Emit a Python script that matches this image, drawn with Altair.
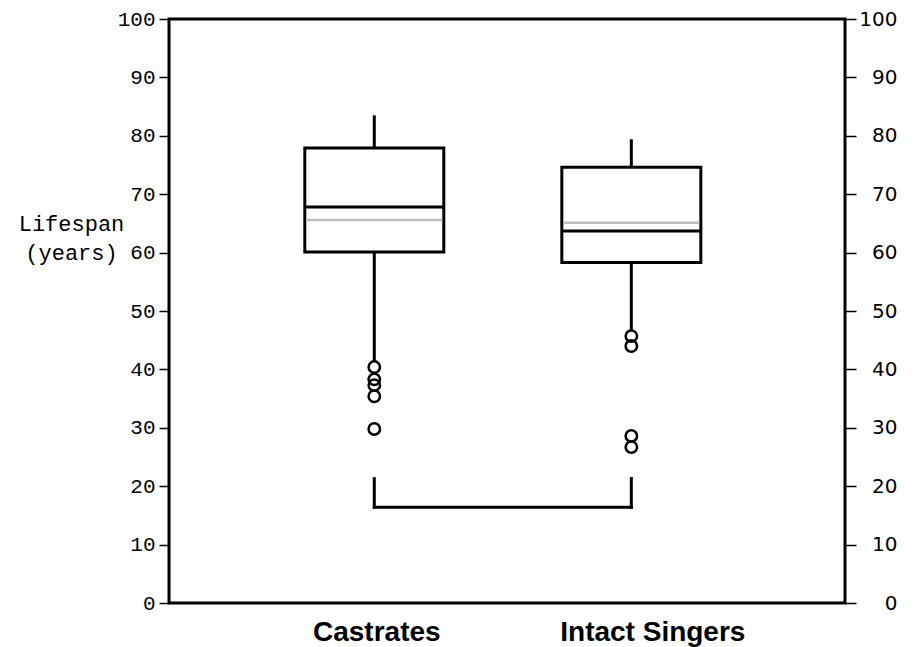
import altair as alt
import pandas as pd

# ---- data ----
cats = ["Castrates", "Intact Singers"]
q1 = [60.1, 58.3]
q3 = [77.9, 74.6]
medians = [67.8, 63.7]
means = [65.6, 65.1]
whisker_hi = [83.5, 79.4]
whisker_lo = [41.3, 46.6]

outlier_cat = ["Castrates"] * 5 + ["Intact Singers"] * 4
outlier_val = [40.4, 38.3, 37.3, 35.4, 29.8, 45.7, 44.0, 28.6, 26.7]

bracket_lo = 16.4
bracket_hi = 21.3

y_ticks = list(range(0, 101, 10))

# ---- tables ----
box_df = pd.DataFrame({"cat": cats, "q1": q1, "q3": q3, "med": medians,
                       "mean": means, "hi": whisker_hi, "lo": whisker_lo})
out_df = pd.DataFrame({"cat": outlier_cat, "val": outlier_val})
br_h = pd.DataFrame({"a": [cats[0]], "b": [cats[1]], "y": [bracket_lo]})
br_v = pd.DataFrame({"cat": cats, "lo": [bracket_lo] * 2, "hi": [bracket_hi] * 2})

xscale = alt.Scale(type="point", domain=cats, padding=0.815, align=0.49)
xaxis = alt.Axis(orient="bottom", labelFont="Liberation Sans", labelFontSize=28,
                 labelFontWeight="bold", labelColor="black", labelPadding=15,
                 labelLimit=500,
                 ticks=False, domain=False, grid=False, title=None, labelAngle=0,
                 labelOffset={"condition": {"test": "datum.value == 'Intact Singers'",
                                            "value": 21}, "value": 2})


def X(field):
    return alt.X(f"{field}:N", scale=xscale, axis=xaxis, sort=cats)


def yscale():
    return alt.Scale(domain=[0, 100], nice=False, zero=True)


def Y(field, axis=None):
    return alt.Y(f"{field}:Q", scale=yscale(), axis=axis)


left_axis = alt.Axis(orient="left", values=y_ticks, labelFont="Liberation Mono",
                     labelFontSize=21, labelColor="black", tickColor="black",
                     tickSize=10, tickWidth=1.5, labelPadding=4, domain=False,
                     grid=False, title=["Lifespan", "(years)"],
                     titleFont="Liberation Mono", titleFontSize=22,
                     titleFontWeight="normal", titleColor="black", titleAngle=0,
                     titleAlign="center", titleBaseline="middle", titleX=-98,
                     titleY=204, titleLineHeight=29)

right_axis = alt.Axis(orient="right", values=y_ticks, labelFont="DejaVu Sans",
                      labelFontSize=20, labelColor="black", labelAlign="right",
                      labelPadding=41, tickColor="black", tickSize=11,
                      tickWidth=1.5, domain=False, grid=False, title=None)

bracket_h = alt.Chart(br_h).mark_rule(color="black", strokeWidth=3, strokeCap="square").encode(
    x=X("a"), x2="b:N", y=Y("y"))
bracket_v = alt.Chart(br_v).mark_rule(color="black", strokeWidth=3, strokeCap="square").encode(
    x=X("cat"), y=Y("lo"), y2="hi:Q")

whisk_up = alt.Chart(box_df).mark_rule(color="black", strokeWidth=3).encode(
    x=X("cat"), y=Y("q3"), y2="hi:Q")
whisk_dn = alt.Chart(box_df).mark_rule(color="black", strokeWidth=3).encode(
    x=X("cat"), y=Y("lo"), y2="q1:Q")

boxes = alt.Chart(box_df).mark_bar(fill="white", stroke="black", strokeWidth=3,
                                   size=139).encode(
    x=X("cat"), y=Y("q1", left_axis), y2="q3:Q")

mean_tick = alt.Chart(box_df).mark_tick(color="#bdbdbd", thickness=2.5, size=136,
                                        opacity=1).encode(
    x=X("cat"), y=Y("mean"))
med_tick = alt.Chart(box_df).mark_tick(color="black", thickness=3, size=139,
                                       opacity=1).encode(
    x=X("cat"), y=Y("med"))

outliers = alt.Chart(out_df).mark_point(shape="circle", filled=False, color="black",
                                        strokeWidth=2.5, size=130, opacity=1).encode(
    x=X("cat"), y=Y("val", right_axis))

chart = alt.layer(bracket_h, bracket_v, whisk_up, whisk_dn, boxes, mean_tick,
                  med_tick, outliers).resolve_scale(y="independent").resolve_axis(
    y="independent").properties(
    width=676, height=584,
    autosize=alt.AutoSizeParams(type="none"),
    padding={"left": 161, "top": 11, "right": 63, "bottom": 44},
    background="white",
).configure_view(stroke="black", strokeWidth=3)

chart.save("out.html", embed_options={"renderer": "svg", "actions": False})
